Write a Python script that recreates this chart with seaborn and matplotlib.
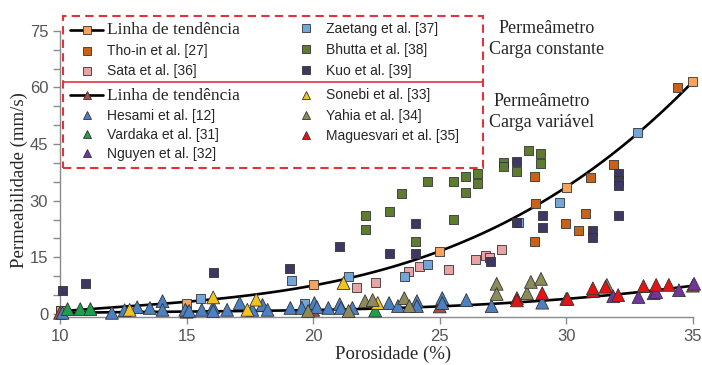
import numpy as np
import pandas as pd
import matplotlib
matplotlib.use("Agg")
import matplotlib.pyplot as plt
from matplotlib.lines import Line2D
from matplotlib.patches import Rectangle
import seaborn as sns

# ---- data ----
# permeameter, constant head (squares)
sq_trend_x = [10, 15, 20, 25, 30, 35]
sq_trend_y = [0.8, 2.9, 7.9, 16.6, 33.5, 61.6]

thoin_x = [28.75, 28.8, 28.75, 29.95, 30.5, 30.75, 30.95, 31.85, 34.4]
thoin_y = [36.4, 29.3, 19.3, 24.0, 22.2, 26.6, 36.1, 39.7, 60.1]

sata_x = [21.7, 22.45, 23.75, 24.2, 25.35, 26.4, 26.8, 26.95, 27.45]
sata_y = [7.1, 8.3, 11.3, 12.7, 11.9, 14.5, 15.6, 15.0, 17.2]

zaetang_x = [10, 15.55, 19.15, 19.65, 21.4, 23.6, 24.5, 28.1, 29.75, 32.8]
zaetang_y = [0.8, 4.0, 9.0, 2.9, 9.8, 9.8, 13.2, 24.3, 29.5, 48.2]

bhutta_x = [22.05, 22.05, 23.0, 23.5, 24.05, 24.5, 25.55, 25.55, 26.0, 26.0,
            26.5, 26.5, 27.5, 27.5, 28.05, 28.5, 29.0, 29.0]
bhutta_y = [26.1, 22.5, 27.2, 32.0, 19.3, 35.1, 35.1, 24.9, 36.4, 32.1,
            37.2, 34.6, 40.2, 39.0, 37.7, 43.3, 42.5, 39.8]

kuo_x = [10.1, 11.0, 16.05, 19.05, 21.05, 23.0, 24.05, 24.05, 27.0, 28.05,
         28.05, 29.05, 29.05, 31.05, 31.05, 32.05, 32.05, 32.05, 32.05]
kuo_y = [6.1, 8.2, 11.1, 12.1, 17.9, 15.9, 15.9, 24.0, 14.0, 40.4,
         24.3, 26.1, 23.0, 22.2, 20.3, 37.2, 35.4, 34.0, 26.1]

# permeameter, falling head (triangles)
tri_trend_x = [10, 15, 20, 25, 30, 35]
tri_trend_y = [0.3, 0.6, 1.1, 2.0, 4.0, 7.5]

hesami_x = [10.1, 12.05, 12.55, 13.05, 13.55, 14.05, 14.05, 14.95, 15.1, 15.6,
            16.05, 16.05, 16.6, 17.1, 17.6, 18.0, 18.2, 19.1, 19.55, 20.05,
            20.15, 20.6, 21.05, 21.1, 21.55, 23.0, 23.35, 24.1, 24.1, 25.1,
            25.1, 26.05, 27.05, 29.05]
hesami_y = [0.3, 0.3, 1.0, 1.8, 1.6, 3.4, 1.1, 1.1, 0.8, 1.1,
            1.8, 0.8, 1.1, 2.9, 1.1, 2.4, 1.1, 1.6, 1.6, 2.9,
            1.8, 1.6, 2.6, 1.6, 1.6, 2.9, 2.1, 3.4, 2.1, 4.2,
            2.9, 3.7, 2.1, 3.0]

vardaka_x = [10.3, 10.8, 11.2, 22.45]
vardaka_y = [1.3, 1.3, 1.3, 0.9]

nguyen_x = [31.85, 32.85, 33.45, 33.55, 34.45, 35.05]
nguyen_y = [4.7, 4.5, 5.5, 5.8, 6.3, 8.0]

sonebi_x = [12.75, 16.05, 17.4, 17.75, 21.2, 22.55]
sonebi_y = [1.1, 4.4, 1.1, 3.8, 8.2, 2.9]

yahia_x = [19.8, 21.4, 22.05, 22.35, 23.6, 23.8, 27.25, 27.25, 28.45, 28.6, 29.0, 31.6]
yahia_y = [0.8, 0.8, 3.4, 3.7, 4.2, 2.1, 8.0, 5.3, 5.5, 8.5, 9.3, 7.7]

magues_x = [28.05, 28.05, 29.05, 30.05, 31.05, 31.05, 31.55, 32.05, 33.05, 33.55, 34.05]
magues_y = [4.2, 3.6, 5.5, 4.0, 6.1, 6.8, 7.2, 5.0, 7.4, 7.7, 7.7]

sq_names = ["Tho-in et al. [27]", "Sata et al. [36]", "Zaetang et al. [37]",
            "Bhutta et al. [38]", "Kuo et al. [39]"]
tri_names = ["Hesami et al. [12]", "Vardaka et al. [31]", "Nguyen et al. [32]",
             "Sonebi et al. [33]", "Yahia et al. [34]", "Maguesvari et al. [35]"]

colors = {
    "trend_sq": "#f5a35e",
    "trend_tri": "#b5483f",
    "Tho-in et al. [27]": "#c8621b",
    "Sata et al. [36]": "#e8a4a4",
    "Zaetang et al. [37]": "#72a6d8",
    "Bhutta et al. [38]": "#5d7c30",
    "Kuo et al. [39]": "#3c3863",
    "Hesami et al. [12]": "#4b80c2",
    "Vardaka et al. [31]": "#1ca04c",
    "Nguyen et al. [32]": "#7334a0",
    "Sonebi et al. [33]": "#f2c31c",
    "Yahia et al. [34]": "#8e8b5a",
    "Maguesvari et al. [35]": "#e41414",
}

def frame(pairs):
    rows = []
    for name, xs, ys in pairs:
        rows.append(pd.DataFrame({"x": xs, "y": ys, "serie": name}))
    return pd.concat(rows, ignore_index=True)

df_sq = frame([
    ("Tho-in et al. [27]", thoin_x, thoin_y),
    ("Sata et al. [36]", sata_x, sata_y),
    ("Zaetang et al. [37]", zaetang_x, zaetang_y),
    ("Bhutta et al. [38]", bhutta_x, bhutta_y),
    ("Kuo et al. [39]", kuo_x, kuo_y),
    ("trend_sq", sq_trend_x, sq_trend_y),
])
df_tri = frame([
    ("trend_tri", tri_trend_x, tri_trend_y),
    ("Hesami et al. [12]", hesami_x, hesami_y),
    ("Vardaka et al. [31]", vardaka_x, vardaka_y),
    ("Nguyen et al. [32]", nguyen_x, nguyen_y),
    ("Sonebi et al. [33]", sonebi_x, sonebi_y),
    ("Yahia et al. [34]", yahia_x, yahia_y),
    ("Maguesvari et al. [35]", magues_x, magues_y),
])

# ---- style ----
sns.set_style("ticks")
plt.rcParams["font.family"] = ["Liberation Sans", "DejaVu Sans"]
serif = ["Liberation Serif", "DejaVu Serif"]
grey = "#8a8a8a"

fig = plt.figure(figsize=(7.02, 3.65), dpi=100)
ax = fig.add_axes([0.0855, 0.1315, 0.9015, 0.784])

# trend lines (polynomial fit through the trend markers)
sns.regplot(x=sq_trend_x, y=sq_trend_y, order=3, ci=None, scatter=False,
            color="black", line_kws={"lw": 1.9, "zorder": 2}, ax=ax)
sns.regplot(x=tri_trend_x, y=tri_trend_y, order=3, ci=None, scatter=False,
            color="black", line_kws={"lw": 1.9, "zorder": 2}, ax=ax)

sns.scatterplot(data=df_sq, x="x", y="y", hue="serie", palette=colors,
                marker="s", s=42, edgecolor="#333333", linewidth=0.6,
                legend=False, ax=ax, zorder=3, clip_on=False)
sns.scatterplot(data=df_tri, x="x", y="y", hue="serie", palette=colors,
                marker="^", s=85, edgecolor="#333333", linewidth=0.6,
                legend=False, ax=ax, zorder=4, clip_on=False)

ax.set_xlim(10, 35)
ax.set_ylim(-0.8, 75)
ax.set_xticks([10, 15, 20, 25, 30, 35])
ax.set_yticks([0, 15, 30, 45, 60, 75])
ax.set_yticks(np.arange(0, 76, 5), minor=True)
ax.tick_params(axis="both", colors=grey, labelcolor="#555555", labelsize=12,
               length=5, width=1)
ax.tick_params(axis="y", which="minor", colors=grey, length=5, width=1)
for side in ["top", "right"]:
    ax.spines[side].set_visible(False)
for side in ["left", "bottom"]:
    ax.spines[side].set_color(grey)
    ax.spines[side].set_linewidth(1)
ax.set_xlabel("Porosidade (%)", family=serif, fontsize=13.5)
ax.set_ylabel("Permeabilidade (mm/s)", family=serif, fontsize=13.5)
ax.xaxis.set_label_coords(0.526, -0.1)
ax.yaxis.set_label_coords(-0.05, 0.48)

# ---- legend ----
def handle(name, marker, trend=False):
    if trend:
        return Line2D([], [], color="black", lw=1.9, marker=marker, ms=5.5,
                      mfc=colors[name], mec="#333333", mew=0.6)
    return Line2D([], [], ls="none", marker=marker, ms=5.5,
                  mfc=colors[name], mec="#333333", mew=0.6)

def column(handles, labels, x_px, top_px, spacing):
    leg = fig.legend(handles, labels, loc="upper left",
                     bbox_to_anchor=(x_px / 702, 1 - top_px / 365),
                     bbox_transform=fig.transFigure, frameon=False,
                     fontsize=10, handlelength=2.38, handletextpad=0.28,
                     labelspacing=spacing, borderpad=0, borderaxespad=0)
    for t in leg.get_texts():
        if t.get_text() == "Linha de tendência":
            t.set_fontfamily(serif)
            t.set_fontsize(12.5)
    return leg

column([handle("trend_sq", "s", True), handle(sq_names[0], "s"), handle(sq_names[1], "s")],
       ["Linha de tendência", sq_names[0], sq_names[1]], 70, 22.5, 0.43)
column([handle(n, "s") for n in sq_names[2:]], sq_names[2:], 289.5, 21.6, 0.52)
column([handle("trend_tri", "^", True)] + [handle(n, "^") for n in tri_names[:3]],
       ["Linha de tendência"] + tri_names[:3], 70, 88, 0.36)
column([handle(n, "^") for n in tri_names[3:]], tri_names[3:], 289.5, 88.4, 0.44)

red = "#e2323c"
fig.patches.append(Rectangle((63 / 702, 1 - 168 / 365), 420 / 702, 152 / 365,
                             transform=fig.transFigure, fill=False, ec=red,
                             lw=1.5, ls=(0, (4, 2.5))))
fig.lines.append(Line2D([63 / 702, 483 / 702], [1 - 82 / 365] * 2,
                        transform=fig.transFigure, color=red, lw=1.2))

fig.text(547 / 702, 1 - 39 / 365, "Permeâmetro\nCarga constante", ha="center",
         va="center", family=serif, fontsize=13, linespacing=1.25)
fig.text(542 / 702, 1 - 112 / 365, "Permeâmetro\nCarga variável", ha="center",
         va="center", family=serif, fontsize=13, linespacing=1.25)

fig.savefig("out.png", dpi=100)
